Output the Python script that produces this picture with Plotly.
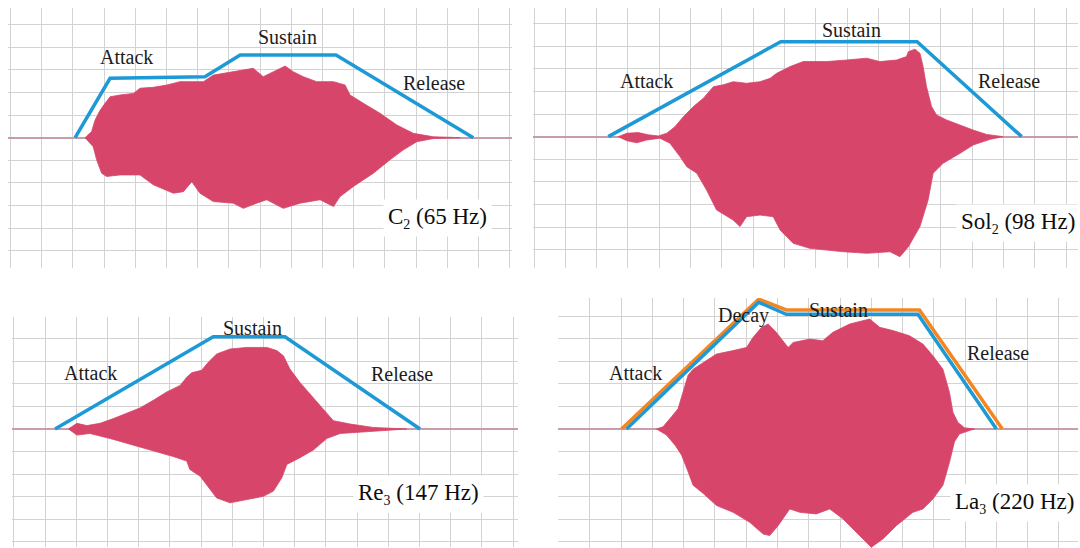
import plotly.graph_objects as go

# ---------------- C2 (65 Hz) ----------------
c2_up_t = [2.39, 2.60, 2.71, 2.87, 3.03, 3.19, 3.51, 3.94, 4.15, 4.58, 5.01, 5.43, 5.86, 6.18,
           6.50, 7.14, 7.78, 8.10, 8.42, 8.80, 9.06, 9.38, 9.81, 10.35, 10.72, 10.88, 11.31,
           11.84, 12.38, 12.91, 13.55, 14.41]
c2_up_a = [0, 0.27, 0.78, 1.21, 1.52, 1.81, 1.89, 1.96, 2.19, 2.23, 2.33, 2.48, 2.48, 2.48,
           2.77, 2.92, 3.07, 2.70, 2.92, 3.17, 2.92, 2.70, 2.48, 2.48, 2.33, 1.89, 1.52,
           1.08, 0.56, 0.19, 0.04, 0]
c2_lo_t = [2.39, 2.65, 2.76, 2.92, 3.08, 3.51, 4.15, 4.58, 5.22, 5.54, 5.81, 6.07, 6.50, 7.14,
           7.46, 7.89, 8.21, 8.74, 9.28, 9.92, 10.35, 10.56, 10.99, 11.63, 12.16, 12.59,
           13.02, 13.55, 14.41]
c2_lo_a = [0, -0.40, -0.98, -1.57, -1.72, -1.65, -1.65, -2.09, -2.46, -2.39, -1.95, -2.46,
           -2.83, -2.90, -3.13, -2.90, -2.75, -3.13, -2.90, -2.75, -3.05, -2.61, -2.16,
           -1.57, -0.98, -0.54, -0.18, -0.04, 0]
c2_env_t = [2.07, 3.19, 6.23, 7.36, 10.43, 14.83]
c2_env_a = [0, 2.63, 2.70, 3.66, 3.66, 0]

# ---------------- Sol2 (98 Hz) ----------------
sol2_up_t = [2.69, 2.96, 3.33, 3.65, 3.97, 4.24, 4.50, 4.77, 5.09, 5.41, 5.73, 6.04, 6.36,
             6.79, 7.22, 7.54, 7.75, 8.18, 8.60, 9.35, 9.99, 10.63, 11.05, 11.58, 11.90,
             11.96, 12.17, 12.33, 12.43, 12.54, 12.70, 12.86, 13.18, 13.61, 14.03, 14.46, 14.99]
sol2_up_a = [0, 0.15, 0.18, 0.08, 0.03, 0.15, 0.44, 0.88, 1.33, 1.70, 2.21, 2.29, 2.43,
             2.36, 2.43, 2.58, 2.80, 3.10, 3.32, 3.32, 3.39, 3.47, 3.32, 3.39, 3.54,
             3.76, 3.87, 3.69, 3.10, 2.21, 1.33, 0.96, 0.74, 0.51, 0.29, 0.10, 0]
sol2_lo_t = [2.69, 2.96, 3.28, 3.60, 4.02, 4.34, 4.66, 4.88, 5.20, 5.51, 5.83, 6.36, 6.58,
             6.79, 7.22, 7.64, 7.86, 8.28, 8.81, 9.88, 10.63, 11.37, 11.69, 11.96, 12.33,
             12.59, 12.75, 13.07, 13.61, 14.03, 14.57, 14.99]
sol2_lo_a = [0, -0.18, -0.27, -0.15, -0.07, -0.29, -0.88, -1.33, -1.62, -2.36, -3.24, -3.69,
             -3.98, -3.54, -3.47, -3.54, -4.13, -4.72, -4.94, -5.09, -5.16, -5.09, -5.31,
             -4.87, -3.98, -2.80, -1.62, -1.18, -0.74, -0.37, -0.12, 0]
sol2_env_t = [2.37, 7.88, 12.24, 15.58]
sol2_env_a = [0, 4.20, 4.20, 0]

# ---------------- Re3 (147 Hz) ----------------
re3_up_t = [1.75, 2.02, 2.34, 2.76, 3.19, 3.62, 4.04, 4.47, 4.90, 5.33, 5.54, 5.70, 6.02,
            6.23, 6.50, 6.93, 7.46, 8.11, 8.43, 8.64, 8.85, 9.17, 9.60, 10.03, 10.24,
            10.78, 11.52, 12.59]
re3_up_a = [0, 0.25, 0.15, 0.25, 0.46, 0.68, 0.93, 1.27, 1.64, 1.93, 2.29, 2.49, 2.60,
            2.95, 3.32, 3.54, 3.61, 3.61, 3.47, 3.24, 2.65, 2.06, 1.40, 0.74, 0.37,
            0.22, 0.07, 0]
re3_lo_t = [1.75, 2.02, 2.44, 3.08, 3.83, 4.37, 5.11, 5.54, 5.64, 5.97, 6.18, 6.50, 6.93,
            7.46, 8.00, 8.32, 8.59, 8.75, 9.17, 9.60, 10.03, 10.46, 11.31, 12.59]
re3_lo_a = [0, -0.27, -0.20, -0.42, -0.71, -0.93, -1.22, -1.42, -1.79, -2.09, -2.46, -3.05,
            -3.27, -3.12, -2.98, -2.75, -2.16, -1.57, -1.27, -0.93, -0.42, -0.20, -0.12, 0]
re3_env_t = [1.32, 6.39, 8.69, 13.02]
re3_env_a = [0, 4.08, 4.08, 0]

# ---------------- La3 (220 Hz) ----------------
la3_up_t = [3.13, 3.34, 3.61, 3.82, 3.98, 4.14, 4.30, 4.62, 5.05, 5.58, 6.01, 6.22, 6.49,
            6.70, 6.96, 7.34, 7.50, 8.03, 8.45, 8.77, 9.31, 9.95, 10.27, 10.69, 11.22,
            11.65, 11.97, 12.29, 12.50, 12.61, 12.77, 12.98, 13.30]
la3_up_a = [0, 0.10, 0.54, 0.90, 1.64, 2.38, 2.65, 2.95, 3.32, 3.47, 3.61, 4.06, 4.50,
            4.65, 4.28, 3.61, 3.83, 3.98, 3.91, 4.28, 4.65, 4.87, 4.50, 4.36, 4.13,
            3.76, 3.24, 2.65, 1.62, 0.74, 0.29, 0.05, 0]
la3_lo_t = [3.13, 3.45, 3.72, 3.93, 4.14, 4.30, 4.62, 5.05, 5.58, 6.11, 6.54, 6.75, 7.02,
            7.39, 7.71, 8.24, 8.67, 9.09, 9.63, 10.00, 10.37, 10.80, 11.33, 11.65, 11.97,
            12.29, 12.50, 12.66, 12.82, 13.14, 13.30]
la3_lo_a = [0, -0.27, -0.71, -1.15, -1.89, -2.49, -2.85, -3.39, -3.69, -4.13, -4.65, -4.72,
            -4.28, -3.54, -3.69, -3.76, -3.54, -3.98, -4.72, -5.24, -4.87, -4.28, -3.69,
            -3.54, -3.10, -2.49, -1.47, -0.56, -0.22, -0.07, 0]
la3_env_t = [2.17, 6.40, 7.28, 11.49, 14.00]
la3_env_a = [0, 5.61, 5.08, 5.08, 0]
la3_adsr_t = [2.01, 6.40, 7.28, 11.54, 14.19]
la3_adsr_a = [0, 5.75, 5.27, 5.27, 0]

WAVE = "#d8456a"
BLUE = "#1d9ad6"
ORANGE = "#f5861f"
GRID = "#d3d3d3"
ZERO = "#c79cab"
SERIF = "Liberation Serif"


def note_label(base, sub, rest):
    # small, slightly lowered index digit after the note name
    return f'{base}<sub><span style="font-size:14px">{sub}</span></sub> {rest}'


panels = [
    dict(ax="", xdom=[0.00741, 0.47407], ydom=[0.51095, 0.98540],
         xr=[-0.08, 16.07], yr=[-5.77, 5.74],
         up=(c2_up_t, c2_up_a), lo=(c2_lo_t, c2_lo_a), env=(c2_env_t, c2_env_a),
         words=[("Attack", 3.72, 3.55), ("Sustain", 8.89, 4.47), ("Release", 13.58, 2.41)],
         name=(note_label("C", "2", "(65 Hz)"), 13.67, -3.55)),
    dict(ax="2", xdom=[0.49352, 0.99815], ydom=[0.51095, 0.98540],
         xr=[-0.035, 17.38], yr=[-5.81, 5.69],
         up=(sol2_up_t, sol2_up_a), lo=(sol2_lo_t, sol2_lo_a), env=(sol2_env_t, sol2_env_a),
         words=[("Attack", 3.60, 2.46), ("Sustain", 10.15, 4.70), ("Release", 15.16, 2.46)],
         name=(note_label("Sol", "2", "(98 Hz)"), 15.47, -3.84)),
    dict(ax="3", xdom=[0.01111, 0.47963], ydom=[0.00237, 0.42208],
         xr=[-0.06, 16.16], yr=[-5.21, 4.97],
         up=(re3_up_t, re3_up_a), lo=(re3_lo_t, re3_lo_a), env=(re3_env_t, re3_env_a),
         words=[("Attack", 2.47, 2.50), ("Sustain", 7.65, 4.45), ("Release", 12.44, 2.43)],
         name=(note_label("Re", "3", "(147 Hz)"), 12.98, -2.88)),
    dict(ax="4", xdom=[0.51667, 0.99815], ydom=[0.0, 0.45620],
         xr=[-0.02, 16.61], yr=[-5.27, 5.80],
         up=(la3_up_t, la3_up_a), lo=(la3_lo_t, la3_lo_a), env=(la3_env_t, la3_env_a),
         extra=(la3_adsr_t, la3_adsr_a),
         words=[("Attack", 2.46, 2.50), ("Decay", 5.90, 5.04), ("Sustain", 8.96, 5.27),
                ("Release", 14.05, 3.38)],
         name=(note_label("La", "3", "(220 Hz)"), 14.58, -3.29)),
]

fig = go.Figure()
annotations = []
layout_axes = {}

for p in panels:
    xa, ya = "x" + p["ax"], "y" + p["ax"]
    ut, ua = p["up"]
    lt, la = p["lo"]
    # waveform outline: upper edge left-to-right, then lower edge right-to-left
    fig.add_trace(go.Scatter(
        x=list(ut) + list(lt)[::-1], y=list(ua) + list(la)[::-1],
        xaxis=xa, yaxis=ya, mode="lines", fill="toself",
        fillcolor=WAVE, line=dict(color=WAVE, width=0.8), hoverinfo="skip"))
    if "extra" in p:
        fig.add_trace(go.Scatter(
            x=p["extra"][0], y=p["extra"][1], xaxis=xa, yaxis=ya, mode="lines",
            line=dict(color=ORANGE, width=3.5), hoverinfo="skip"))
    fig.add_trace(go.Scatter(
        x=p["env"][0], y=p["env"][1], xaxis=xa, yaxis=ya, mode="lines",
        line=dict(color=BLUE, width=3.5), hoverinfo="skip"))

    for txt, tx, ty in p["words"]:
        annotations.append(dict(
            text=txt, x=tx, y=ty, xref=xa, yref=ya, showarrow=False,
            xanchor="center", yanchor="middle",
            font=dict(family=SERIF, size=20, color="#1c1c1c")))
    nt, nx, ny = p["name"]
    annotations.append(dict(
        text=nt, x=nx, y=ny, xref=xa, yref=ya, showarrow=False,
        xanchor="center", yanchor="middle", bgcolor="white", borderpad=4,
        font=dict(family=SERIF, size=23, color="#0d0d0d")))

    xkey = "xaxis" + p["ax"]
    ykey = "yaxis" + p["ax"]
    layout_axes[xkey] = dict(
        domain=p["xdom"], range=p["xr"], anchor=ya, tick0=0, dtick=1,
        showgrid=True, gridcolor=GRID, gridwidth=1, zeroline=False,
        showticklabels=False, ticks="", showline=False, fixedrange=True)
    layout_axes[ykey] = dict(
        domain=p["ydom"], range=p["yr"], anchor=xa, tick0=0, dtick=1,
        showgrid=True, gridcolor=GRID, gridwidth=1, zeroline=True,
        zerolinecolor=ZERO, zerolinewidth=1.5,
        showticklabels=False, ticks="", showline=False, fixedrange=True)

fig.update_layout(
    width=1080, height=548,
    margin=dict(l=0, r=0, t=0, b=0, pad=0),
    paper_bgcolor="white", plot_bgcolor="white",
    font=dict(family=SERIF, size=20, color="#1c1c1c"),
    showlegend=False, annotations=annotations,
    **layout_axes)

fig.write_html("out.html", config={"displayModeBar": False})
